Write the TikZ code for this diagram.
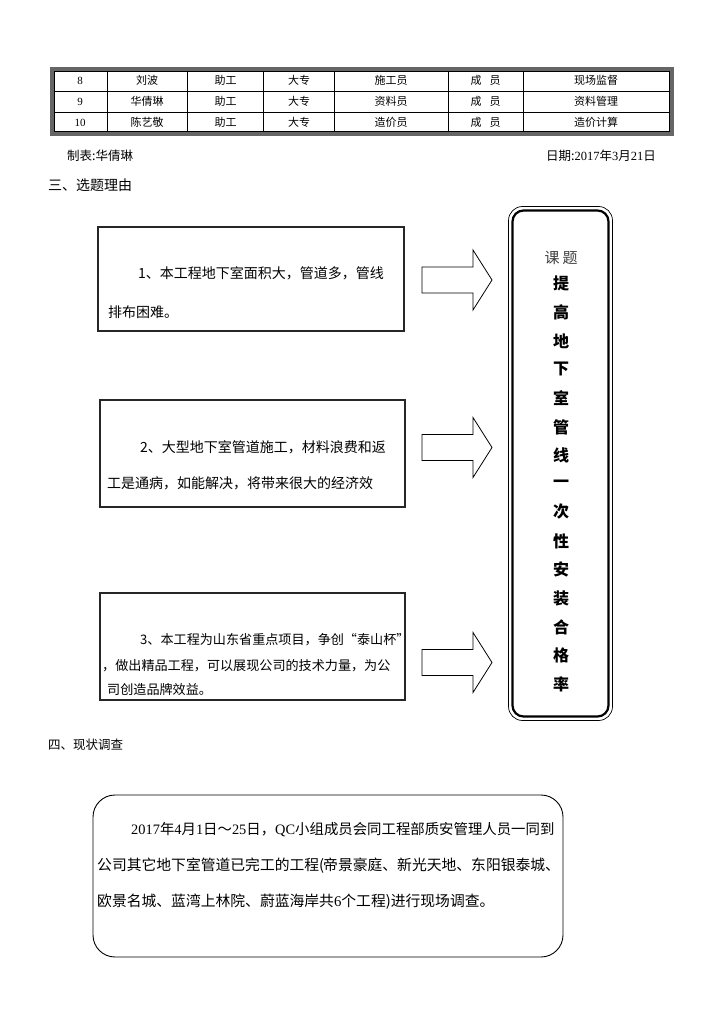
\documentclass[tikz,border=0pt]{standalone}
\usepackage{fontspec}
\setmainfont{Noto Sans CJK SC}
\newfontfamily\numfont{Liberation Serif}
\usetikzlibrary{positioning}
\tikzset{
  cell/.style={font=\fontsize{11}{11}\selectfont, inner sep=0pt},
  numcell/.style={font=\numfont\fontsize{11}{11}\selectfont, inner sep=0pt},
  reasonbox/.style={draw=black!85, line width=2.6pt, inner sep=0pt},
  txt/.style={anchor=west, inner sep=0pt, font=\fontsize{14}{14}\selectfont},
  txtb/.style={anchor=west, inner sep=0pt, font=\fontsize{13.1}{13.1}\selectfont},
  txtc/.style={anchor=west, inner sep=0pt, font=\fontsize{14.8}{14.8}\selectfont},
  head/.style={anchor=west, inner sep=0pt},
  vchar/.style={inner sep=0pt, font=\bfseries\fontsize{16}{16}\selectfont},
  blockarrow/.style={draw=black, line width=0.8pt, fill=white},
}
\begin{document}
\begin{tikzpicture}[x=1pt,y=-1pt]
\useasboundingbox (0,0) rectangle (724,1024);
\fill[white] (0,0) rectangle (724,1024);

% ---------- table ----------
\draw[line width=3.4pt, black!60] (52,69) rectangle (672,134);
\draw[line width=0.7pt] (54.2,71.2) rectangle (669.8,131.8);
\foreach \yy in {91,112} \draw[line width=0.7pt] (54.2,\yy) -- (669.8,\yy);
\foreach \xx in {107,187.5,263.5,334,448,523} \draw[line width=0.7pt] (\xx,71.2) -- (\xx,131.8);

\node[numcell] (r1c1) at (80,80.5) {8};
\node[cell] (r1c2) at (147,80.5) {刘波};
\node[cell] (r1c3) at (225.5,80.5) {助工};
\node[cell] (r1c4) at (299,80.5) {大专};
\node[cell] (r1c5) at (391,80.5) {施工员};
\node[cell] (r1c6) at (485.5,80.5) {成\hspace{8pt}员};
\node[cell] (r1c7) at (596,80.5) {现场监督};

\node[numcell] (r2c1) at (80,101.5) {9};
\node[cell] (r2c2) at (147,101.5) {华倩琳};
\node[cell] (r2c3) at (225.5,101.5) {助工};
\node[cell] (r2c4) at (299,101.5) {大专};
\node[cell] (r2c5) at (391,101.5) {资料员};
\node[cell] (r2c6) at (485.5,101.5) {成\hspace{8pt}员};
\node[cell] (r2c7) at (596,101.5) {资料管理};

\node[numcell] (r3c1) at (80,122.5) {10};
\node[cell] (r3c2) at (147,122.5) {陈艺敬};
\node[cell] (r3c3) at (225.5,122.5) {助工};
\node[cell] (r3c4) at (299,122.5) {大专};
\node[cell] (r3c5) at (391,122.5) {造价员};
\node[cell] (r3c6) at (485.5,122.5) {成\hspace{8pt}员};
\node[cell] (r3c7) at (596,122.5) {造价计算};

% ---------- footer ----------
\node[head, font=\fontsize{12.5}{12.5}\selectfont] (maker) at (67,156) {制表:华倩琳};
\node[anchor=east, inner sep=0pt, font=\fontsize{12.5}{12.5}\selectfont] (date) at (656,156) {日期:{\numfont 2017}年{\numfont 3}月{\numfont 21}日};

% ---------- section 3 ----------
\node[head, font=\fontsize{14}{14}\selectfont] (sec3) at (48,185) {三、选题理由};

% box 1
\node[reasonbox, minimum width=306pt, minimum height=104pt] (box1) at (251,279) {};
\node[txt] (b1l1) at (138,273) {1、本工程地下室面积大，管道多，管线};
\node[txt] (b1l2) at (108,312) {排布困难。};

% box 2
\node[reasonbox, minimum width=305pt, minimum height=107pt] (box2) at (252.5,453.5) {};
\node[txt] (b2l1) at (140,447) {2、大型地下室管道施工，材料浪费和返};
\node[txt] (b2l2) at (107,483) {工是通病，如能解决，将带来很大的经济效};

% box 3
\node[reasonbox, minimum width=305pt, minimum height=107pt] (box3) at (252.5,646.5) {};
\node[txtb] (b3l1) at (140,640) {3、本工程为山东省重点项目，争创“泰山杯”};
\node[txtb] (b3l2) at (105,666) {{\kern-3pt}，做出精品工程，可以展现公司的技术力量，为公};
\node[txtb] (b3l3) at (107,690) {司创造品牌效益。};

% block arrows
\foreach \cy in {280,447.5,662.5}{
  \draw[blockarrow] (422,\cy-13) -- (473,\cy-13) -- (473,\cy-30) -- (492,\cy)
     -- (473,\cy+30) -- (473,\cy+13) -- (422,\cy+13) -- cycle;
}

% tall title box
\draw[line width=0.7pt, rounded corners=14pt] (508.5,206.5) rectangle (612.5,720.5);
\node[draw, line width=2.2pt, rounded corners=11pt, minimum width=96pt, minimum height=506pt, inner sep=0pt] (title) at (560.5,463.5) {};
\node[inner sep=0pt, font=\fontsize{15}{15}\selectfont, text=black!75] (ket) at (561,258) {课\hspace{3pt}题};
\node[vchar] (t1) at (561,283) {提};
\node[vchar] (t2) at (561,312) {高};
\node[vchar] (t3) at (561,341) {地};
\node[vchar] (t4) at (561,369) {下};
\node[vchar] (t5) at (561,398) {室};
\node[vchar] (t6) at (561,427) {管};
\node[vchar] (t7) at (561,455) {线};
\node[vchar] (t8) at (561,484) {一};
\node[vchar] (t9) at (561,512) {次};
\node[vchar] (t10) at (561,541) {性};
\node[vchar] (t11) at (561,569) {安};
\node[vchar] (t12) at (561,598) {装};
\node[vchar] (t13) at (561,627) {合};
\node[vchar] (t14) at (561,655) {格};
\node[vchar] (t15) at (561,684) {率};

% ---------- section 4 ----------
\node[head, font=\fontsize{12.5}{12.5}\selectfont] (sec4) at (48,745) {四、现状调查};

\node[draw, line width=0.9pt, rounded corners=22pt, minimum width=470pt, minimum height=162pt, inner sep=0pt] (survey) at (328,876) {};
\node[txtc, font=\fontsize{14.4}{14.4}\selectfont] (s1) at (131,830) {{\numfont 2017}年{\numfont 4}月{\numfont 1}日～{\numfont 25}日，{\numfont QC}小组成员会同工程部质安管理人员一同到};
\node[txtc] (s2) at (97,866) {公司其它地下室管道已完工的工程({\kern-1pt}帝景豪庭、新光天地、东阳银泰城、};
\node[txtc] (s3) at (97,902) {欧景名城、蓝湾上林院、蔚蓝海岸共{\numfont 6}个工程)进行现场调查。};
\end{tikzpicture}
\end{document}
